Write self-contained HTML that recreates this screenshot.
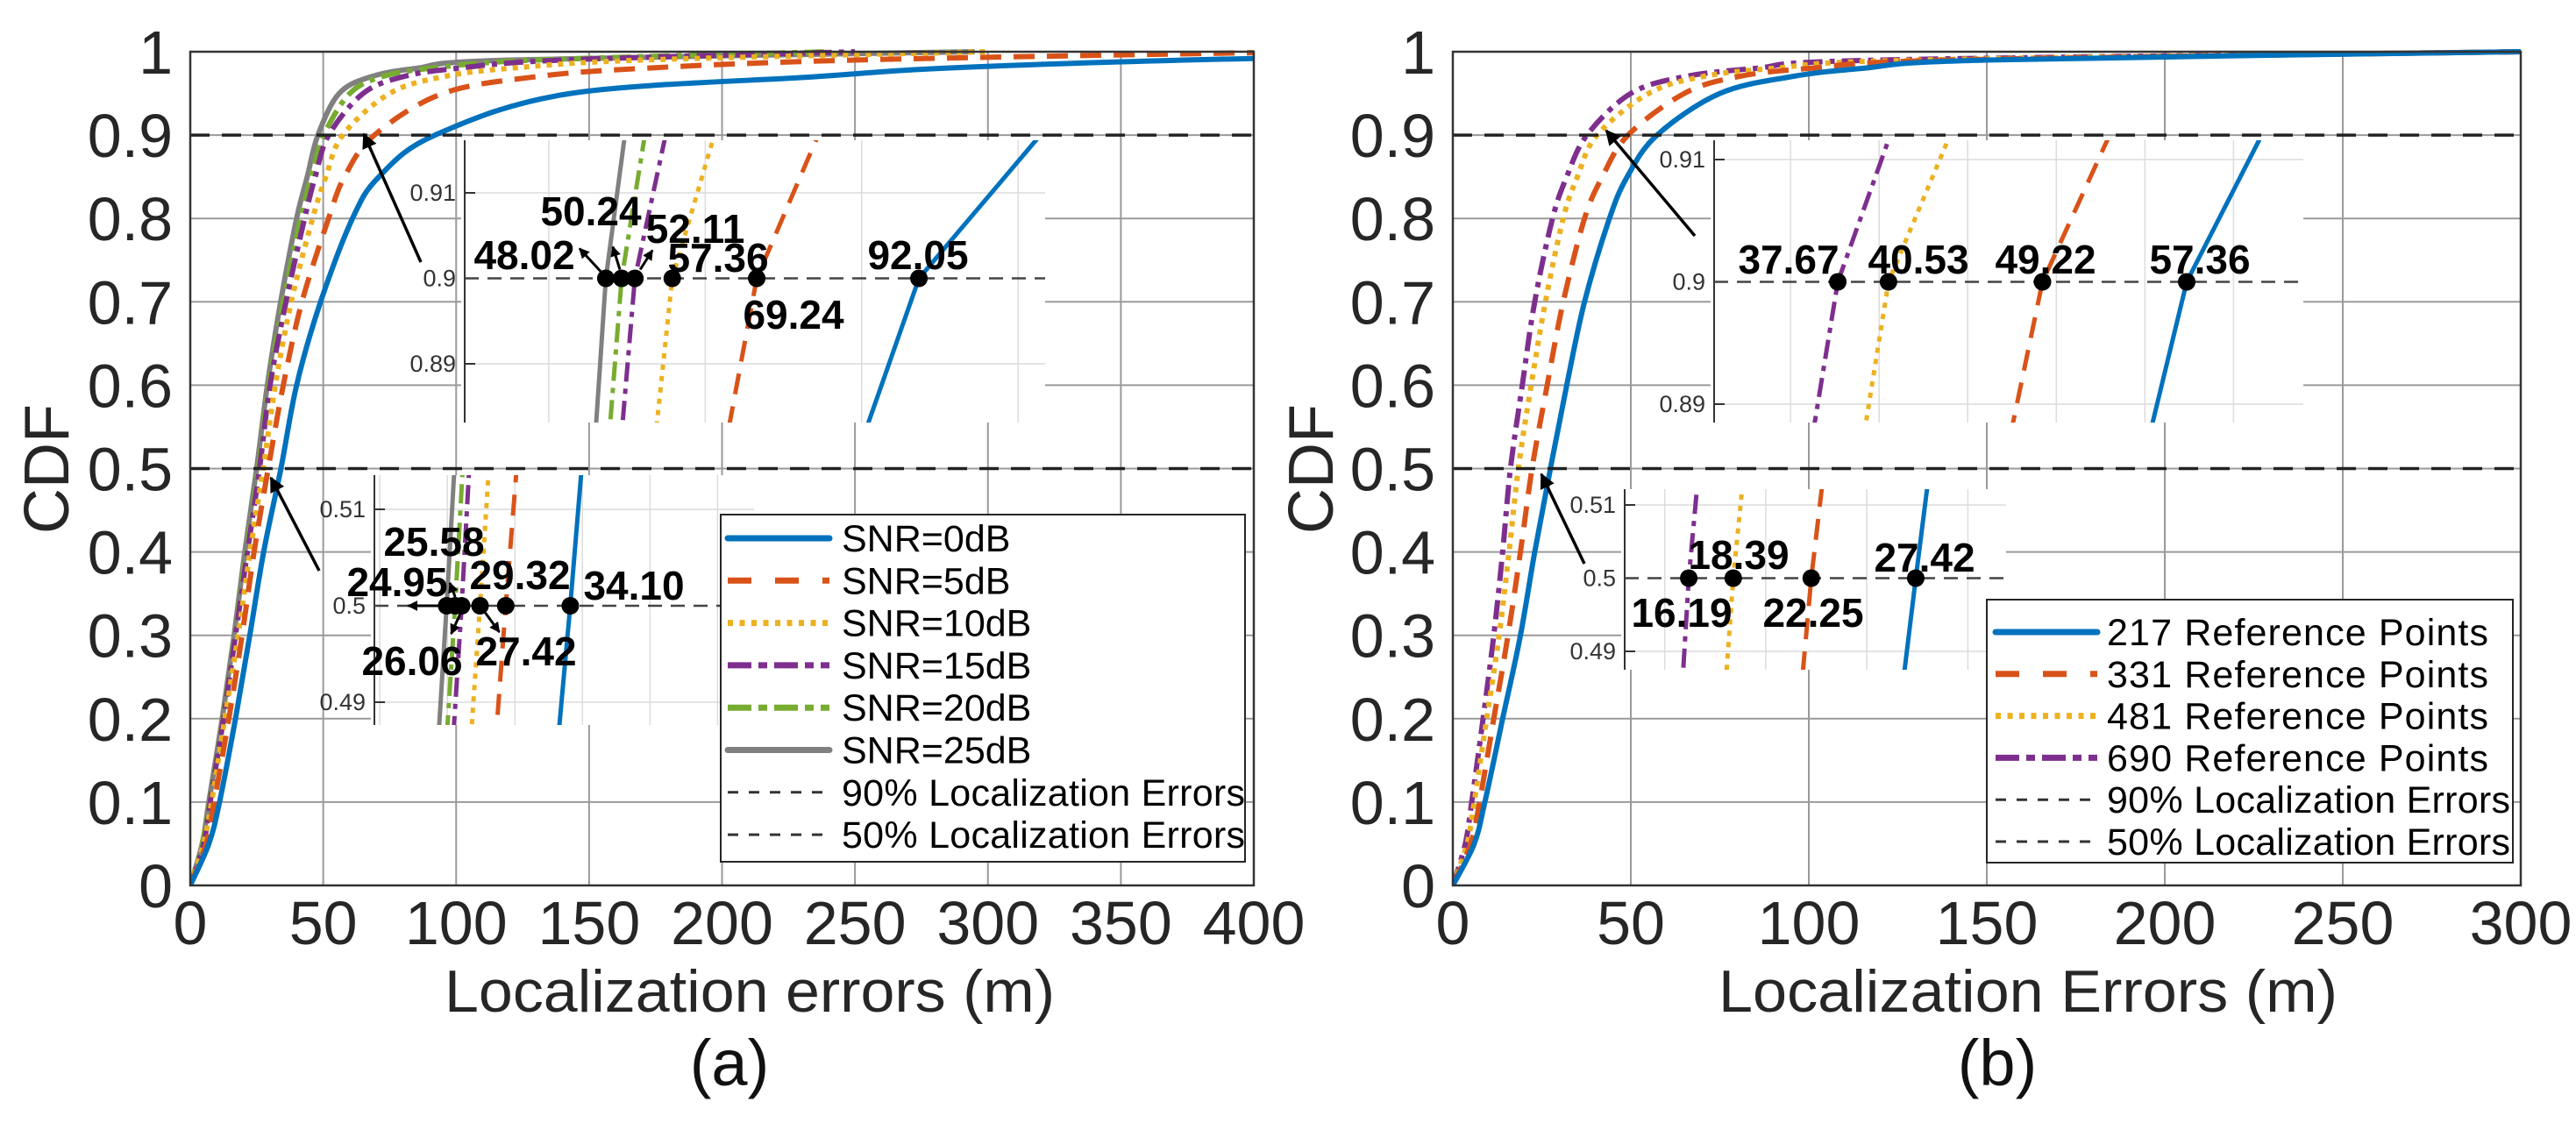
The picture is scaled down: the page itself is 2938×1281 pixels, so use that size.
<!DOCTYPE html>
<html><head><meta charset="utf-8"><style>
html,body{margin:0;padding:0;background:#fff;width:2938px;height:1281px;overflow:hidden;}
svg{display:block;}
text{font-family:"Liberation Sans",sans-serif;}
</style></head><body>
<svg id="fig" width="2938" height="1281" viewBox="0 0 2938 1281" xmlns="http://www.w3.org/2000/svg">
<defs>
<marker id="ah" viewBox="0 0 10 10" refX="9" refY="5" markerWidth="5" markerHeight="5" orient="auto-start-reverse"><path d="M0,0 L10,5 L0,10 z" fill="#000"/></marker>
<marker id="ahs" viewBox="0 0 10 10" refX="9" refY="5" markerWidth="4" markerHeight="4" orient="auto-start-reverse"><path d="M0,0 L10,5 L0,10 z" fill="#000"/></marker>
</defs>
<g id="root"></g>
</svg>
<script>
// ===== data =====
const cdfLevels = [0,0.05,0.1,0.2,0.3,0.4,0.5,0.6,0.7,0.8,0.85,0.9,0.95,0.97,0.98,0.99,1.0];
const snr0  = [0,7,11,17,22.4,27.6,34.1,40,49,61,71,92.05,143,235,282,374,520];
const snr5  = [0,6,9,14.5,19.5,24,29.32,35,42,52,58,69.24,95,130,170,250,420];
const snr10 = [0,5,8,13,18,22.5,27.42,32,38,46,51,57.36,75,95,120,170,300];
const snr15 = [0,5,7.5,12.5,17,21.5,26.06,30,36,43,47,52.11,65,80,100,140,250];
const snr20 = [0,4.5,7.3,12.3,16.8,21,25.58,29.5,35,41.5,45.5,50.24,60,72,90,130,240];
const snr25 = [0,4.5,7,12,16.5,20.5,24.95,29,34,40,44,48.02,56,68,85,120,295];
const rp217 = [0,6,9,14,19,23,27.42,32,37,44,49,57.36,75,95,115,150,300];
const rp331 = [0,5,7.5,11.5,15.5,19,22.25,26.5,31,37,42,49.22,65,80,100,140,300];
const rp481 = [0,4,6,9.5,13,15.8,18.39,22,26,31,35,40.53,55,70,90,130,300];
const rp690 = [0,3.5,5.3,8.5,11.5,14,16.19,19.5,23,28,32,37.67,50,65,85,120,300];
const namesA = ["SNR=0dB","SNR=5dB","SNR=10dB","SNR=15dB","SNR=20dB","SNR=25dB"];
const namesB = ["217 Reference Points","331 Reference Points","481 Reference Points","690 Reference Points"];
const q90A = [92.05,69.24,57.36,52.11,50.24,48.02];
const q50A = [34.10,29.32,27.42,26.06,25.58,24.95];
const q90B = [57.36,49.22,40.53,37.67];
const q50B = [27.42,22.25,18.39,16.19];
const xTicksA = [0,50,100,150,200,250,300,350,400];
const xTicksB = [0,50,100,150,200,250,300];
const yTicks = [0,0.1,0.2,0.3,0.4,0.5,0.6,0.7,0.8,0.9,1];

const NS="http://www.w3.org/2000/svg";
const root=document.getElementById('root');
function mk(tag,attrs,parent){const e=document.createElementNS(NS,tag);for(const k in attrs)e.setAttribute(k,attrs[k]);(parent||root).appendChild(e);return e;}
const COL=["#0072BD","#D95319","#EDB120","#7E2F8E","#77AC30","#808080"];
const DASH=["none","24,14","6,7","22,8,6,8","22,8,6,8","none"];
const COLB=["#0072BD","#D95319","#EDB120","#7E2F8E"];
const DASHB=["none","24,14","6,7","22,8,6,8"];

function makeScale(d0,d1,p0,p1){return v=>p0+(v-d0)/(d1-d0)*(p1-p0);}
function pathFor(xs,sx,sy){let d="";for(let i=0;i<xs.length;i++){d+=(i?"L":"M")+sx(xs[i]).toFixed(1)+","+sy(cdfLevels[i]).toFixed(1);}return d;}
function smoothPath(xs,sx,sy){
  const P=xs.map((x,i)=>[sx(x),sy(cdfLevels[i])]);
  let d="M"+P[0][0].toFixed(1)+","+P[0][1].toFixed(1);
  for(let i=0;i<P.length-1;i++){
    const p0=P[Math.max(0,i-1)],p1=P[i],p2=P[i+1],p3=P[Math.min(P.length-1,i+2)];
    const c1=[p1[0]+(p2[0]-p0[0])/6,p1[1]+(p2[1]-p0[1])/6];
    const c2=[p2[0]-(p3[0]-p1[0])/6,p2[1]-(p3[1]-p1[1])/6];
    d+="C"+c1[0].toFixed(1)+","+c1[1].toFixed(1)+" "+c2[0].toFixed(1)+","+c2[1].toFixed(1)+" "+p2[0].toFixed(1)+","+p2[1].toFixed(1);
  }
  return d;
}

function panel(o){
  const g=mk('g',{});
  
  
  const sx=makeScale(0,o.xmax,o.x0,o.x1), sy=makeScale(0,1,1010,59);
  const cid=o.name+'-clip';
  const cp=mk('clipPath',{id:cid},g);mk('rect',{x:o.x0,y:50,width:o.x1-o.x0,height:965},cp);
  o.xt.forEach(v=>{const l=mk('line',{x1:sx(v),x2:sx(v),y1:59,y2:1010,stroke:"#9a9a9a","stroke-width":2},g);
    });
  yTicks.forEach(v=>{const l=mk('line',{x1:o.x0,x2:o.x1,y1:sy(v),y2:sy(v),stroke:"#9a9a9a","stroke-width":2},g);
    });
  o.xt.forEach(v=>{const t=mk('text',{x:sx(v),y:1077,"font-size":70,"text-anchor":"middle",fill:"#262626"},g);t.textContent=v;
    });
  yTicks.forEach(v=>{const t=mk('text',{x:o.x0-20,y:sy(v)+25,"font-size":70,"text-anchor":"end",fill:"#262626"},g);t.textContent=v===0?"0":(v===1?"1":String(v));
    });
  const cg=mk('g',{"clip-path":"url(#"+cid+")"},g);
  for(let i=o.series.length-1;i>=0;i--){
    const p=mk('path',{d:smoothPath(o.series[i],sx,sy),fill:"none",stroke:o.cols[i],"stroke-width":6,"stroke-dasharray":o.dash[i],"stroke-linejoin":"round"},cg);
    
    
  }
  [0.9,0.5].forEach(v=>{const l=mk('line',{x1:o.x0,x2:o.x1,y1:sy(v),y2:sy(v),stroke:"#222","stroke-width":3.5,"stroke-dasharray":"22,14"},g);
    });
  const b=mk('rect',{x:o.x0,y:59,width:o.x1-o.x0,height:951,fill:"none",stroke:"#333","stroke-width":2.5},g);
  
  const xl=mk('text',{x:o.xlx,y:1154,"font-size":68,"text-anchor":"middle",fill:"#262626",textLength:o.xlw,lengthAdjust:"spacingAndGlyphs"},g);xl.textContent=o.xlabel;
  
  const yl=mk('text',{x:0,y:0,"font-size":72,"text-anchor":"middle",fill:"#262626",transform:"translate("+o.ylx+",535) rotate(-90)"},g);yl.textContent="CDF";
  
  const cap=mk('text',{x:o.capx,y:1238,"font-size":74,"text-anchor":"middle",fill:"#111","font-family":"Liberation Serif, serif"},g);cap.textContent=o.cap;
  
  return {g,sx,sy};
}

function inset(P,o){
  const g=mk('g',{},P.g);
  
  
  const sx=makeScale(o.d0,o.d1,o.x0,o.x1), sy=makeScale(o.c-0.01,o.c+0.01,o.yLo,o.yHi);
  mk('rect',{x:o.x0-4,y:o.y0,width:o.x1-o.x0+4,height:o.y1-o.y0,fill:"#fff"},g);
  const cid=o.name+'-clip';
  const cp=mk('clipPath',{id:cid},g);mk('rect',{x:o.x0,y:o.y0,width:o.x1-o.x0,height:o.y1-o.y0},cp);
  o.grid.forEach(v=>{if(sx(v)>o.x0&&sx(v)<o.x1){const l=mk('line',{x1:sx(v),x2:sx(v),y1:o.y0,y2:o.y1,stroke:"#dcdcdc","stroke-width":1.5},g);
    }});
  [o.c+0.01,o.c-0.01].forEach(v=>{const l=mk('line',{x1:o.x0,x2:o.x1,y1:sy(v),y2:sy(v),stroke:"#dcdcdc","stroke-width":1.5},g);
    });
  [o.c+0.01,o.c,o.c-0.01].forEach(v=>{
    mk('line',{x1:o.x0,x2:o.x0+12,y1:sy(v),y2:sy(v),stroke:"#333","stroke-width":2},g);
    const t=mk('text',{x:o.x0-10,y:sy(v)+9,"font-size":27,"text-anchor":"end",fill:"#333"},g);t.textContent=String(Math.round(v*100)/100);
    });
  const ax=mk('line',{x1:o.x0,x2:o.x0,y1:o.y0,y2:o.y1,stroke:"#333","stroke-width":2},g);
  
  const cg=mk('g',{"clip-path":"url(#"+cid+")"},g);
  for(let i=o.series.length-1;i>=0;i--){
    const p=mk('path',{d:pathFor(o.series[i],sx,sy),fill:"none",stroke:o.cols[i],"stroke-width":5,"stroke-dasharray":o.dash[i]},cg);
    
    
  }
  const dl=mk('line',{x1:o.x0,x2:o.x1,y1:sy(o.c),y2:sy(o.c),stroke:"#444","stroke-width":2.5,"stroke-dasharray":"16,10"},g);
  
  o.q.forEach((v,i)=>{
    const c=mk('circle',{cx:sx(v),cy:sy(o.c),r:10,fill:"#000"},g);
    
    const L=o.labels[i];
    const t=mk('text',{x:L[0],y:L[1]+17,"font-size":46,"font-weight":"bold","text-anchor":"middle",fill:"#000"},g);t.textContent=v.toFixed(2);
    
    if(L[2]){const a=mk('line',{x1:sx(v)+L[2][0],y1:sy(o.c)+L[2][1],x2:sx(v)+L[2][2],y2:sy(o.c)+L[2][3],stroke:"#000","stroke-width":3,"marker-end":"url(#ahs)"},g);
      }
  });
}

function legend(P,o){
  const g=mk('g',{},P.g);
  
  
  mk('rect',{x:o.x,y:o.y,width:o.w,height:o.h,fill:"#fff",stroke:"#262626","stroke-width":2},g);
  o.items.forEach((it,i)=>{
    const yy=o.ey0+i*o.sp;
    const e=mk('g',{},g);
    
    
    mk('line',{x1:o.lx0,x2:o.lx1,y1:yy,y2:yy,stroke:it[1],"stroke-width":it[3],"stroke-dasharray":it[2],"stroke-linecap":it[2]==="none"?"round":"butt"},e);
    const at={x:o.tx,y:yy+15,"font-size":43,fill:"#000"};
    if(it[4])at.textLength=it[4];
    const t=mk('text',at,e);t.textContent=it[0];
  });
}

function arrow(g,x1,y1,x2,y2){const a=mk('line',{x1,y1,x2,y2,stroke:"#000","stroke-width":3.5,"marker-end":"url(#ah)"},g);
  }

// ===== panel a =====
const sA=[snr0,snr5,snr10,snr15,snr20,snr25];
const idsA=["snr0","snr5","snr10","snr15","snr20","snr25"];
const A=panel({name:"panel-a",x0:217,x1:1430,xmax:400,xt:xTicksA,series:sA,cols:COL,dash:DASH,ids:idsA,
  xlabel:"Localization errors (m)",xlx:855,xlw:696,ylx:78,cap:"(a)",capx:832});
inset(A,{name:"inset-a-90",x0:530,x1:1192,y0:160,y1:482,d0:28.17,d1:109.8,c:0.9,yLo:415,yHi:220,
  series:sA,cols:COL,dash:DASH,ids:idsA,grid:[40,62,84,106],q:q90A,
  labels:[[1047,290],[905,358],[819,293],[793,260,[6,-10,20,-32]],[674,240,[-2,-10,-10,-36]],[598,290,[-6,-8,-30,-34]]]});
inset(A,{name:"inset-a-50",x0:427,x1:860,y0:542,y1:827,d0:19.6,d1:47.7,c:0.5,yLo:801,yHi:581,
  series:sA,cols:COL,dash:DASH,ids:idsA,grid:[20,25,30,35,40,45],q:q50A,
  labels:[[723,667],[593,655],[600,742,[6,8,22,30]],[470,753,[-2,10,-12,32]],[495,617,[0,-10,-6,-26]],[453,663,[-8,0,-44,0]]]});
legend(A,{x:822,y:587,w:598,h:396,ey0:614,sp:48.3,lx0:830,lx1:946,tx:960,
  items:[[namesA[0],COL[0],"none",7],[namesA[1],COL[1],"27,27",7],[namesA[2],COL[2],"6,7.5",7],[namesA[3],COL[3],"27,8,10,8",7],[namesA[4],COL[4],"27,8,10,8",7],[namesA[5],COL[5],"none",7],
  ["90% Localization Errors","#333","12,12",3,460],["50% Localization Errors","#333","12,12",3,460]]});
arrow(A.g,480,299,415,153);
arrow(A.g,364,651,309,545);

// ===== panel b =====
const sB=[rp217,rp331,rp481,rp690];
const idsB=["rp217","rp331","rp481","rp690"];
const B=panel({name:"panel-b",x0:1657,x1:2875,xmax:300,xt:xTicksB,series:sB,cols:COLB,dash:DASHB,ids:idsB,
  xlabel:"Localization Errors (m)",xlx:2313,xlw:706,ylx:1520,cap:"(b)",capx:2278});
inset(B,{name:"inset-b-90",x0:1955,x1:2627,y0:160,y1:482,d0:30.69,d1:63.94,c:0.9,yLo:461,yHi:182,
  series:sB,cols:COLB,dash:DASHB,ids:idsB,grid:[35,40,45,50,55,60],q:q90B,
  labels:[[2509,295],[2333,295],[2188,295],[2040,295]]});
inset(B,{name:"inset-b-50",x0:1853,x1:2288,y0:558,y1:764,d0:13.02,d1:31.89,c:0.5,yLo:743,yHi:576,
  series:sB,cols:COLB,dash:DASHB,ids:idsB,grid:[15,20,25,30],q:q50B,
  labels:[[2195,635],[2068,698],[1983,632],[1918,698]]});
legend(B,{x:2266,y:684,w:600,h:300,ey0:721,sp:47.8,lx0:2276,lx1:2392,tx:2403,
  items:[[namesB[0],COLB[0],"none",7,435],[namesB[1],COLB[1],"27,27",7,435],[namesB[2],COLB[2],"6,7.5",7,435],[namesB[3],COLB[3],"27,8,10,8",7,435],
  ["90% Localization Errors","#333","12,12",3,460],["50% Localization Errors","#333","12,12",3,460]]});
arrow(B.g,1933,269,1832,149);
arrow(B.g,1807,643,1758,541);
</script>
</body></html>
